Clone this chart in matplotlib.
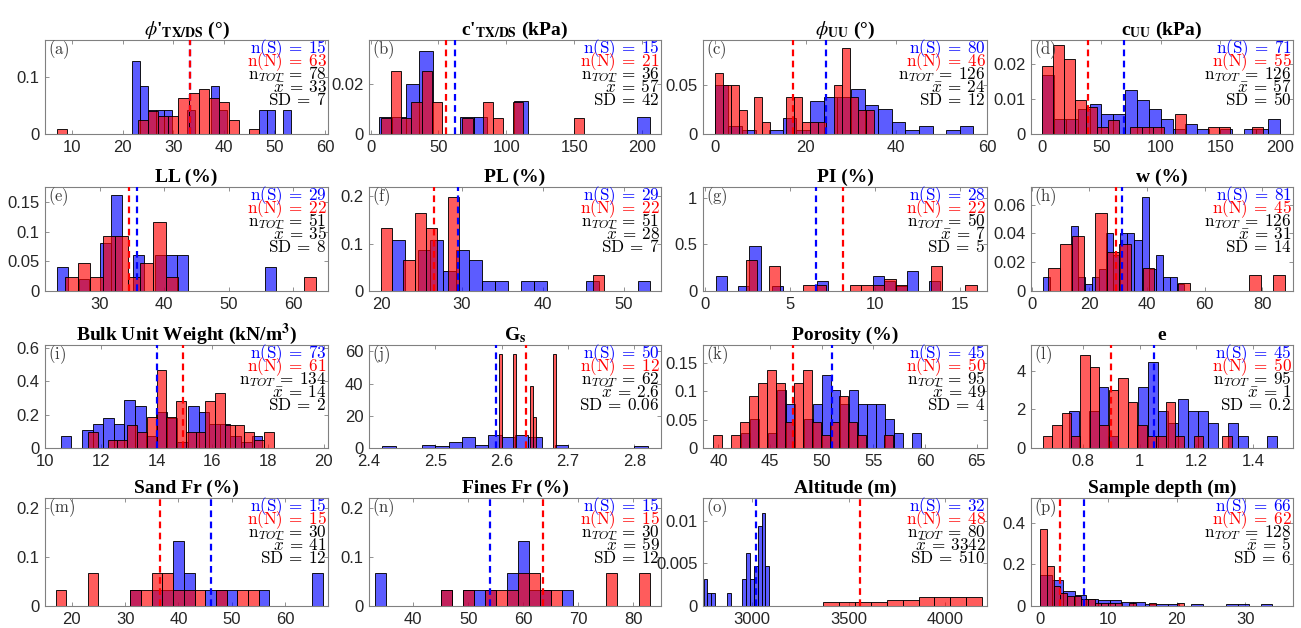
import numpy as np
import matplotlib
matplotlib.use("Agg")
import matplotlib.pyplot as plt
from matplotlib.ticker import FuncFormatter, FixedLocator

# ---------------- data (counts per bin; bins = (first edge, width)) ----------------
# (a) phi' TX/DS
a_S_bins, a_S_counts = (21.8, 1.57), [3, 2, 1, 1, 1, 0, 0, 1, 0, 0, 2, 1, 0, 0, 0, 0, 1, 1, 0, 1]
a_N_bins, a_N_counts = (7.0, 2.0), [1, 0, 0, 0, 0, 0, 0, 0, 3, 5, 4, 4, 8, 9, 10, 8, 7, 3, 0, 1]
a_means = (33.3, 33.3)
a_stats = (15, 63, 78, "33", "7")
# (b) c' TX/DS
b_S_bins, b_S_counts = (6.0, 10.0), [1, 1, 3, 5, 0, 0, 1, 1, 0, 0, 2, 0, 0, 0, 0, 0, 0, 0, 0, 1]
b_N_bins, b_N_counts = (7.6, 7.5), [1, 4, 1, 2, 4, 2, 0, 0, 1, 0, 2, 1, 0, 2, 0, 0, 0, 0, 0, 1]
b_means = (62.0, 55.5)
b_stats = (15, 21, 36, "57", "42")
# (c) phi UU
c_S_bins, c_S_counts = (0.0, 3.0), [12, 2, 1, 0, 1, 4, 1, 8, 9, 9, 11, 7, 6, 3, 1, 2, 0, 1, 2]
c_N_bins, c_N_counts = (0.0, 1.75), [5, 4, 4, 2, 0, 3, 1, 0, 0, 3, 3, 1, 1, 1, 0, 4, 7, 3, 2, 2]
c_means = (24.6, 17.2)
c_stats = (80, 46, 126, "24", "12")
# (d) c UU
d_S_bins, d_S_counts = (0.0, 10.0), [12, 3, 3, 5, 6, 4, 4, 9, 7, 5, 3, 1, 2, 1, 0, 1, 0, 1, 1, 3]
d_N_bins, d_N_counts = (0.0, 9.3), [10, 13, 11, 5, 4, 1, 2, 0, 1, 1, 1, 0, 3, 0, 0, 1, 1, 0, 0, 1]
d_means = (69.0, 39.0)
d_stats = (71, 55, 126, "57", "50")
# (e) LL
e_S_bins, e_S_counts = (23.3, 1.7), [2, 0, 1, 0, 4, 8, 0, 3, 0, 3, 3, 3, 0, 0, 0, 0, 0, 0, 0, 2]
e_N_bins, e_N_counts = (24.6, 1.95), [1, 2, 1, 4, 4, 1, 2, 5, 1, 0, 0, 0, 0, 0, 0, 0, 0, 0, 0, 1]
e_means = (35.8, 34.6)
e_stats = (29, 22, 51, "35", "8")
# (f) PL
f_S_bins, f_S_counts = (21.3, 1.6), [5, 0, 4, 5, 2, 4, 3, 1, 1, 0, 1, 1, 0, 0, 0, 1, 0, 0, 0, 1]
f_N_bins, f_N_counts = (20.0, 1.38), [4, 0, 2, 5, 4, 0, 6, 0, 0, 0, 0, 0, 0, 0, 0, 0, 0, 0, 0, 1]
f_means = (29.5, 26.5)
f_stats = (29, 22, 51, "28", "7")
# (g) PI
g_S_bins, g_S_counts = (0.65, 0.66), [3, 0, 1, 9, 0, 1, 0, 0, 0, 2, 0, 0, 0, 0, 3, 2, 1, 4, 0, 2]
g_N_bins, g_N_counts = (2.4, 0.68), [5, 0, 4, 0, 0, 1, 1, 0, 0, 1, 1, 1, 2, 1, 0, 0, 4, 0, 0, 1]
g_means = (6.55, 8.15)
g_stats = (28, 22, 50, "7", "5")
# (h) w
h_S_bins, h_S_counts = (3.8, 2.45), [2, 0, 0, 0, 9, 2, 1, 2, 3, 8, 5, 8, 8, 7, 13, 3, 5, 2, 2, 1]
h_N_bins, h_N_counts = (5.7, 4.1), [3, 6, 7, 0, 10, 5, 6, 0, 3, 0, 0, 1, 0, 0, 0, 0, 0, 2, 0, 2]
h_means = (31.3, 29.3)
h_stats = (81, 45, 126, "31", "14")
# (i) Bulk unit weight
i_S_bins, i_S_counts = (10.57, 0.38), [2, 0, 3, 4, 5, 4, 8, 7, 2, 6, 5, 1, 7, 6, 4, 4, 2, 1, 2]
i_N_bins, i_N_counts = (11.55, 0.35), [2, 0, 1, 1, 3, 2, 4, 10, 4, 6, 2, 2, 6, 7, 3, 3, 2, 1, 2]
i_means = (14.0, 14.96)
i_stats = (73, 61, 134, "14", "2")
# (j) Gs
j_S_bins, j_S_counts = (2.42, 0.02), [1, 0, 0, 2, 1, 4, 7, 2, 8, 7, 8, 7, 0, 2, 0, 0, 0, 0, 0, 1]
j_N_bins, j_N_counts = (2.5957, 0.0043), [3, 0, 0, 0, 0, 3, 0, 0, 0, 0, 0, 2, 1, 0, 0, 0, 0, 0, 0, 3]
j_means = (2.591, 2.636)
j_stats = (50, 12, 62, "2.6", "0.06")
# (k) Porosity
k_S_bins, k_S_counts = (42.2, 0.87), [1, 2, 0, 1, 4, 3, 0, 2, 3, 5, 4, 3, 4, 3, 3, 3, 2, 1, 0, 1]
k_N_bins, k_N_counts = (39.45, 0.87), [1, 0, 1, 2, 4, 5, 6, 5, 2, 5, 6, 2, 1, 2, 4, 2, 1, 0, 0, 1]
k_means = (51.0, 47.2)
k_stats = (45, 50, 95, "49", "4")
# (l) e
l_S_bins, l_S_counts = (0.75, 0.035), [3, 0, 3, 5, 1, 0, 0, 5, 7, 3, 2, 4, 3, 3, 2, 0, 2, 1, 0, 0, 1]
l_N_bins, l_N_counts = (0.658, 0.0333), [1, 2, 3, 1, 8, 7, 2, 5, 6, 4, 2, 1, 1, 4, 1, 0, 1, 0, 0, 1]
l_means = (1.05, 0.90)
l_stats = (45, 50, 95, "1", "0.2")
# (m) Sand fraction
m_S_bins, m_S_counts = (31.0, 2.0), [1, 0, 1, 1, 4, 2, 0, 1, 1, 1, 0, 0, 1, 0, 0, 0, 0, 2]
m_N_bins, m_N_counts = (17.0, 2.0), [1, 0, 0, 2, 0, 0, 0, 1, 1, 2, 2, 1, 1, 1, 0, 1, 0, 1, 1]
m_means = (46.0, 36.5)
m_stats = (15, 15, 30, "41", "12")
# (n) Fines fraction
n_S_bins, n_S_counts = (33.0, 2.0), [2, 0, 0, 0, 0, 0, 1, 0, 1, 1, 1, 0, 2, 4, 1, 1, 0, 1]
n_N_bins, n_N_counts = (45.0, 2.0), [1, 0, 1, 0, 1, 1, 1, 2, 2, 1, 1, 0, 0, 0, 0, 2, 0, 0, 2]
n_means = (54.0, 63.5)
n_stats = (15, 15, 30, "59", "12")
# (o) Altitude
o_S_bins, o_S_counts = (2750.0, 20.0), [2, 1, 1, 0, 0, 0, 1, 0, 0, 0, 2, 4, 2, 3, 6, 7, 3]
o_N_bins, o_N_counts = (3370.0, 82.0), [2, 2, 2, 2, 3, 3, 4, 4, 4, 4]
o_means = (3020.0, 3560.0)
o_stats = (32, 48, 80, "3342", "510")
# (p) Sample depth
p_S_bins, p_S_counts = (0.0, 1.7), [17, 14, 8, 6, 4, 3, 3, 2, 2, 1, 1, 1, 0, 1, 0, 0, 1, 1, 0, 1]
p_N_bins, p_N_counts = (0.0, 1.0), [23, 12, 6, 4, 3, 3, 2, 2, 1, 1, 1, 1, 0, 1, 0, 0, 1, 0, 0, 0, 1]
p_means = (6.5, 3.0)
p_stats = (66, 62, 128, "5", "6")

titles = [r"$\phi$'$_{\mathbf{TX/DS}}$ (°)", r"c'$_{\mathbf{TX/DS}}$ (kPa)", r"$\phi$$_{\mathbf{UU}}$ (°)", r"c$_{\mathbf{UU}}$ (kPa)",
          "LL (%)", "PL (%)", "PI (%)", "w (%)",
          r"Bulk Unit Weight (kN/m$^{\mathbf{3}}$)", r"G$_{\mathbf{s}}$", "Porosity (%)", "e",
          "Sand Fr (%)", "Fines Fr (%)", "Altitude (m)", "Sample depth (m)"]
letters = list("abcdefghijklmnop")

xlims = [(4.6, 60.6), (-1.2, 214), (-2.6, 60), (-9.2, 211),
         (21.5, 65.4), (18.5, 54.6), (-0.1, 16.6), (-0.2, 90.6),
         (10.0, 20.15), (2.4, 2.84), (38.5, 66.0), (0.617, 1.54),
         (15.0, 68.0), (32.0, 85.0), (2747, 4216), (-1.3, 37.0)]
ylims = [0.165, 0.0376, 0.0954, 0.0269,
         0.176, 0.219, 1.114, 0.0723,
         0.616, 64.0, 0.181, 5.33,
         0.22, 0.22, 0.0127, 0.52]
xticks = [[10, 20, 30, 40, 50, 60], [0, 50, 100, 150, 200], [0, 20, 40, 60], [0, 50, 100, 150, 200],
          [30, 40, 50, 60], [20, 30, 40, 50], [0, 5, 10, 15], [0, 20, 40, 60, 80],
          [10, 12, 14, 16, 18, 20], [2.4, 2.5, 2.6, 2.7, 2.8], [40, 45, 50, 55, 60, 65], [0.8, 1.0, 1.2, 1.4],
          [20, 30, 40, 50, 60], [40, 50, 60, 70, 80], [3000, 3500, 4000], [0, 10, 20, 30]]
yticks = [[0, 0.1], [0, 0.02], [0, 0.05], [0, 0.01, 0.02],
          [0, 0.05, 0.1, 0.15], [0, 0.1, 0.2], [0, 0.5, 1], [0, 0.02, 0.04, 0.06],
          [0, 0.2, 0.4, 0.6], [0, 20, 40, 60], [0, 0.05, 0.1, 0.15], [0, 2, 4],
          [0, 0.1, 0.2], [0, 0.1, 0.2], [0, 0.005, 0.01], [0, 0.2, 0.4]]

panels = [
    (a_S_bins, a_S_counts, a_N_bins, a_N_counts, a_means, a_stats),
    (b_S_bins, b_S_counts, b_N_bins, b_N_counts, b_means, b_stats),
    (c_S_bins, c_S_counts, c_N_bins, c_N_counts, c_means, c_stats),
    (d_S_bins, d_S_counts, d_N_bins, d_N_counts, d_means, d_stats),
    (e_S_bins, e_S_counts, e_N_bins, e_N_counts, e_means, e_stats),
    (f_S_bins, f_S_counts, f_N_bins, f_N_counts, f_means, f_stats),
    (g_S_bins, g_S_counts, g_N_bins, g_N_counts, g_means, g_stats),
    (h_S_bins, h_S_counts, h_N_bins, h_N_counts, h_means, h_stats),
    (i_S_bins, i_S_counts, i_N_bins, i_N_counts, i_means, i_stats),
    (j_S_bins, j_S_counts, j_N_bins, j_N_counts, j_means, j_stats),
    (k_S_bins, k_S_counts, k_N_bins, k_N_counts, k_means, k_stats),
    (l_S_bins, l_S_counts, l_N_bins, l_N_counts, l_means, l_stats),
    (m_S_bins, m_S_counts, m_N_bins, m_N_counts, m_means, m_stats),
    (n_S_bins, n_S_counts, n_N_bins, n_N_counts, n_means, n_stats),
    (o_S_bins, o_S_counts, o_N_bins, o_N_counts, o_means, o_stats),
    (p_S_bins, p_S_counts, p_N_bins, p_N_counts, p_means, p_stats),
]

# ---------------- layout / style ----------------
W, H = 1301, 628
fig = plt.figure(figsize=(W / 100, H / 100), dpi=100)
fig.patch.set_facecolor("white")

cols = [(45, 328), (369, 661), (703, 987), (1031, 1293)]
rows = [(40, 134), (187, 291), (345, 448), (498, 606)]

BLUE_FACE = (0.0, 0.0, 1.0, 0.64)
RED_FACE = (1.0, 0.0, 0.0, 0.64)
EDGE = (0.0, 0.0, 0.0, 0.9)
SPINE = "#808080"
TICKCOL = "#262626"


def draw_hist(ax, bins, counts, n, face):
    start, width = bins
    counts = np.asarray(counts, dtype=float)
    left = start + width * np.arange(len(counts))
    dens = counts / (n * width)
    keep = counts > 0
    ax.bar(left[keep], dens[keep], width=width, align="edge", color=face,
           edgecolor=EDGE, linewidth=0.7, zorder=2)


fmt = FuncFormatter(lambda v, p: ("%g" % v) if abs(v) > 1e-12 else "0")

for idx, (sb, sc, nb, nc, means, stats) in enumerate(panels):
    r, c = divmod(idx, 4)
    l, rr = cols[c]
    t, b = rows[r]
    ax = fig.add_axes([l / W, 1 - b / H, (rr - l) / W, (b - t) / H])
    nS, nN, nT, mean, sd = stats

    draw_hist(ax, sb, sc, nS, BLUE_FACE)
    draw_hist(ax, nb, nc, nN, RED_FACE)
    ax.axvline(means[0], color=(0, 0, 1), lw=1.6, ls=(0, (3, 2)), zorder=3)
    ax.axvline(means[1], color=(1, 0, 0), lw=1.6, ls=(0, (3, 2)), zorder=3)

    ax.set_xlim(*xlims[idx])
    ax.set_ylim(0, ylims[idx])
    ax.xaxis.set_major_locator(FixedLocator(xticks[idx]))
    ax.yaxis.set_major_locator(FixedLocator(yticks[idx]))
    ax.xaxis.set_major_formatter(fmt)
    ax.yaxis.set_major_formatter(fmt)
    ax.tick_params(direction="in", length=3, width=0.6, colors=SPINE, labelcolor=TICKCOL,
                   labelsize=12, top=True, right=True, pad=4)
    for lab in ax.get_xticklabels() + ax.get_yticklabels():
        lab.set_fontfamily("Liberation Sans")
    for s in ax.spines.values():
        s.set_color(SPINE)
        s.set_linewidth(0.8)

    ax.set_title(titles[idx], fontsize=14, fontweight="bold", fontfamily="Liberation Serif",
                 math_fontfamily="stix", pad=3.5)

    ax.annotate(r"$\mathrm{(%s)}$" % letters[idx], xy=(0, 1), xycoords="axes fraction",
                xytext=(2.5, -10.0), textcoords="offset points", ha="left", va="baseline",
                color="#3a3a3a", fontsize=12, math_fontfamily="cm", zorder=5)

    lines = [(r"$\mathrm{n(S)}\:=\:%s$" % nS, (0, 0, 1)),
             (r"$\mathrm{n(N)}\:=\:%s$" % nN, (1, 0, 0)),
             (r"$\mathrm{n}_{TOT}\:=\:%s$" % nT, "black"),
             (r"$\bar{x}\:=\:%s$" % mean, "black"),
             (r"$\mathrm{SD}\:=\:%s$" % sd, "black")]
    for k, (s, col) in enumerate(lines):
        ax.annotate(s, xy=(1, 1), xycoords="axes fraction",
                    xytext=(-1.0, -9.8 - 9.25 * k), textcoords="offset points",
                    ha="right", va="baseline", color=col, fontsize=12.3,
                    math_fontfamily="cm", zorder=5)

fig.savefig("out.png", dpi=100, facecolor="white")
